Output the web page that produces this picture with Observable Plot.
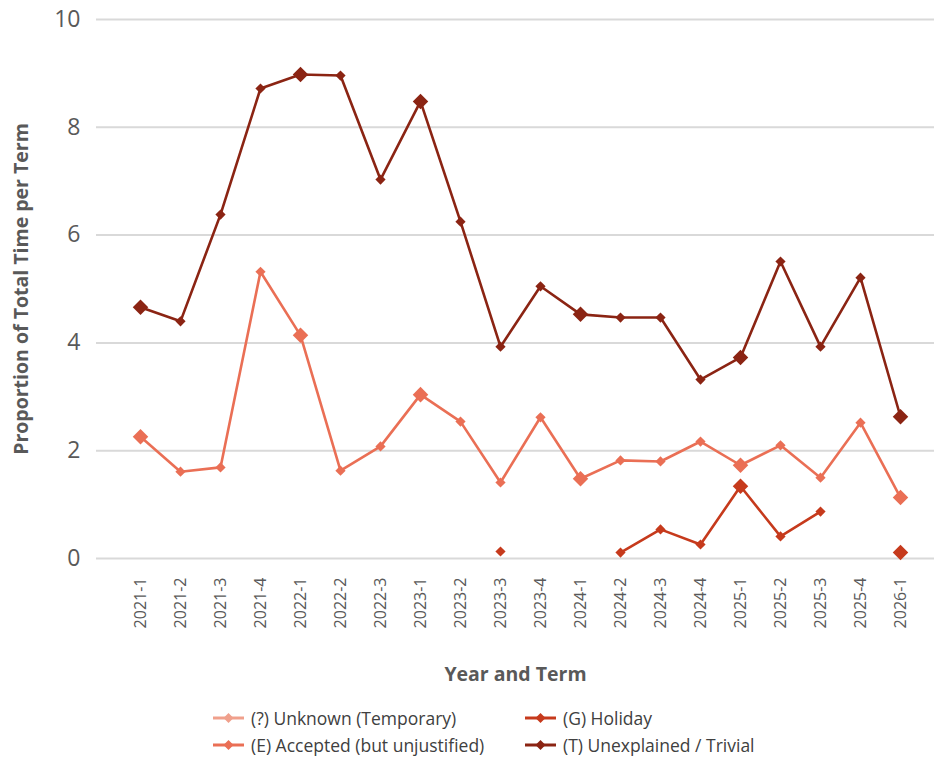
<!DOCTYPE html>
<html>
<head>
<meta charset="utf-8">
<script src="https://cdn.jsdelivr.net/npm/d3@7"></script>
<script src="https://cdn.jsdelivr.net/npm/@observablehq/plot@0.6"></script>
<style>
  html, body { margin: 0; padding: 0; background: #fff; }
  body { width: 934px; font-family: "Open Sans", "Noto Sans", sans-serif; }
  #legend { position: relative; height: 62px; font-size: 17.5px; color: #404040; }
  .item { position: absolute; display: flex; align-items: center; height: 22px; }
  .item svg { margin-right: 7px; }
</style>
</head>
<body>
<div id="chart"></div>
<div id="legend"></div>
<script>
const terms = ["2021-1","2021-2","2021-3","2021-4","2022-1","2022-2","2022-3","2023-1","2023-2","2023-3","2023-4","2024-1","2024-2","2024-3","2024-4","2025-1","2025-2","2025-3","2025-4","2026-1"];
const seriesNames = ["(?) Unknown (Temporary)", "(E) Accepted (but unjustified)", "(G) Holiday", "(T) Unexplained / Trivial"];
const seriesColors = ["#f0a08c", "#ea6f55", "#c63a1c", "#8b2413"];
const unknownValues = [null,null,null,null,null,null,null,null,null,null,null,null,null,null,null,null,null,null,null,null];
const acceptedValues = [2.26,1.61,1.69,5.32,4.14,1.63,2.08,3.04,2.54,1.41,2.62,1.48,1.82,1.80,2.17,1.73,2.10,1.50,2.52,1.13];
const holidayValues = [null,null,null,null,null,null,null,null,null,0.13,null,null,0.11,0.54,0.26,1.34,0.41,0.87,null,0.11];
const trivialValues = [4.66,4.40,6.38,8.72,8.98,8.96,7.03,8.48,6.25,3.93,5.05,4.53,4.47,4.47,3.32,3.73,5.51,3.93,5.21,2.63];
const yTicks = [0, 2, 4, 6, 8, 10];

const allValues = [unknownValues, acceptedValues, holidayValues, trivialValues];
const data = [];
allValues.forEach((vals, s) => {
  vals.forEach((v, i) => data.push({series: seriesNames[s], term: terms[i], value: v, big: terms[i].endsWith("-1")}));
});
const smallPts = data.filter(d => d.value != null && !d.big);
const bigPts = data.filter(d => d.value != null && d.big);

const plot = Plot.plot({
  width: 934,
  height: 700,
  marginLeft: 96,
  marginRight: 0,
  marginTop: 19,
  marginBottom: 142,
  style: {fontFamily: "'Open Sans', 'Noto Sans', sans-serif", background: "#fff"},
  x: {type: "point", domain: terms, range: [136, 904], padding: 0},
  y: {domain: [0, 10], ticks: yTicks},
  color: {domain: seriesNames, range: seriesColors},
  marks: [
    Plot.gridY(yTicks, {stroke: "#d9d9d9", strokeWidth: 2, strokeOpacity: 1}),
    Plot.axisY({ticks: yTicks, tickSize: 0, tickPadding: 16, fontSize: 23, fill: "#595959",
      label: "Proportion of Total Time per Term", labelAnchor: "center", labelArrow: "none", labelOffset: 82}),
    Plot.axisX({tickSize: 0, tickRotate: -90, tickPadding: 19, fontSize: 16, fill: "#595959",
      label: "Year and Term", labelAnchor: "center", labelArrow: "none", labelOffset: 122}),
    Plot.lineY(data, {x: "term", y: "value", z: "series", stroke: "series", strokeWidth: 2.6, curve: "linear"}),
    Plot.dot(smallPts, {x: "term", y: "value", fill: "series", symbol: "diamond2", r: 4.6, stroke: "none"}),
    Plot.dot(bigPts, {x: "term", y: "value", fill: "series", symbol: "diamond2", r: 7, stroke: "none"})
  ]
});
plot.querySelectorAll("g[aria-label='y-axis label'] text, g[aria-label='x-axis label'] text").forEach(t => {
  t.setAttribute("font-weight", "bold");
  t.setAttribute("font-size", "19.5");
  t.setAttribute("fill", "#595959");
});
document.getElementById("chart").appendChild(plot);

const legend = document.getElementById("legend");
const pos = [[213, 7], [213, 34], [525, 7], [525, 34]];
seriesNames.forEach((n, i) => {
  const it = document.createElement("div");
  it.className = "item";
  it.style.left = pos[i][0] + "px";
  it.style.top = pos[i][1] + "px";
  it.innerHTML = `<svg width="31" height="12"><line x1="0" y1="6" x2="31" y2="6" stroke="${seriesColors[i]}" stroke-width="3"/><path d="M15.5 1 L20.5 6 L15.5 11 L10.5 6 Z" fill="${seriesColors[i]}"/></svg><span>${n}</span>`;
  legend.appendChild(it);
});
</script>
</body>
</html>
